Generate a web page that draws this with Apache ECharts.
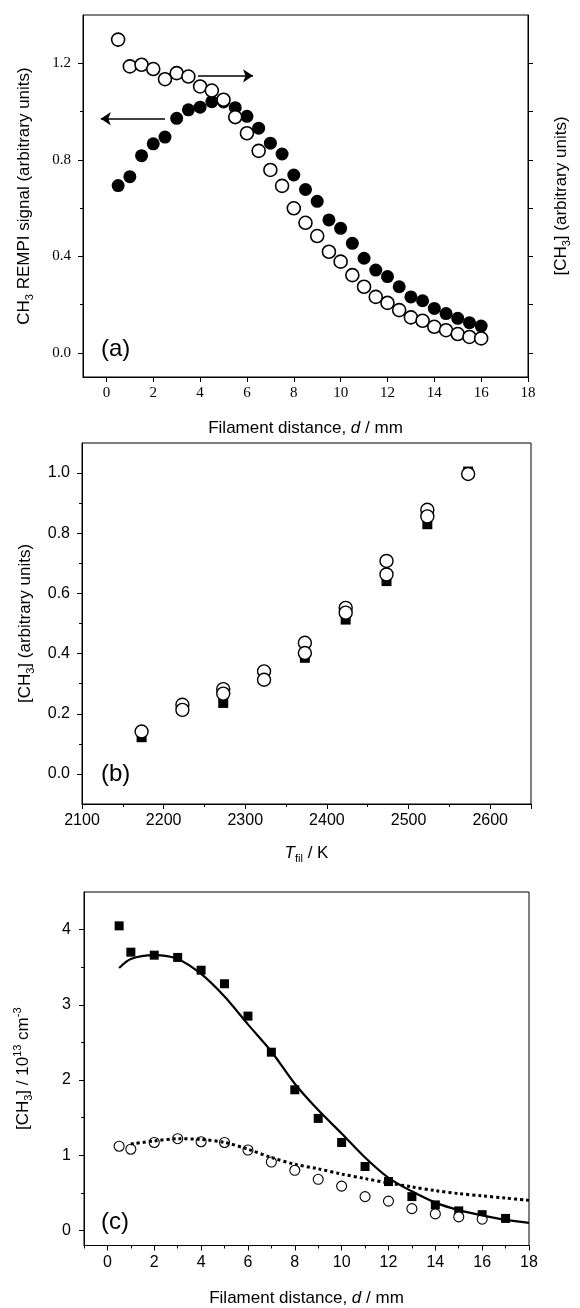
<!DOCTYPE html>
<html><head><meta charset="utf-8">
<script src="https://cdn.jsdelivr.net/npm/echarts@6/dist/echarts.min.js"></script>
<style>html,body{margin:0;padding:0;background:#fff}#c{width:580px;height:1308px}</style>
</head><body><div id="c"></div>
<script>
// ---------- Panel (a) ----------
const distA = [0.5,1.0,1.5,2.0,2.5,3.0,3.5,4.0,4.5,5.0,5.5,6.0,6.5,7.0,7.5,8.0,8.5,9.0,9.5,10.0,10.5,11.0,11.5,12.0,12.5,13.0,13.5,14.0,14.5,15.0,15.5,16.0];
const rempiA = [0.693,0.730,0.817,0.866,0.894,0.972,1.007,1.018,1.041,1.040,1.016,0.980,0.931,0.869,0.824,0.737,0.677,0.628,0.551,0.516,0.454,0.392,0.343,0.316,0.274,0.232,0.216,0.184,0.163,0.143,0.125,0.111];
const ch3A = [1.298,1.187,1.194,1.176,1.134,1.159,1.145,1.104,1.087,1.049,0.977,0.910,0.837,0.758,0.692,0.599,0.539,0.484,0.419,0.378,0.322,0.274,0.232,0.207,0.177,0.147,0.133,0.108,0.094,0.078,0.066,0.060];
const ticksA_x = [0,2,4,6,8,10,12,14,16,18];
const ticksA_y = [0.0,0.4,0.8,1.2];
const minorA_y = [0.2,0.6,1.0];
const rightA_y = [0.0,0.2,0.4,0.6,0.8,1.0,1.2];
const arrowLeft = [[2.5,0.97],[-0.24,0.97]];
const arrowRight = [[3.91,1.148],[6.26,1.148]];

// ---------- Panel (b) ----------
const tempSq = [2173,2273,2373,2423,2473,2523,2573];
const valSq = [0.122,0.236,0.386,0.513,0.641,0.830,1.005];
const tempC1 = [2173,2223,2273,2323,2373,2423,2473,2523,2573];
const valC1 = [0.141,0.230,0.282,0.341,0.436,0.552,0.708,0.878,0.997];
const tempC2 = [2223,2273,2323,2373,2423,2473,2523];
const valC2 = [0.213,0.267,0.313,0.402,0.536,0.663,0.856];
const ticksB_y = [0.0,0.2,0.4,0.6,0.8,1.0];
const minorB_y = [0.1,0.3,0.5,0.7,0.9];

// ---------- Panel (c) ----------
const distSqC = [0.5,1,2,3,4,5,6,7,8,9,10,11,12,13,14,15,16,17];
const valSqC = [4.05,3.70,3.66,3.63,3.46,3.28,2.85,2.37,1.87,1.49,1.17,0.85,0.65,0.45,0.34,0.26,0.21,0.16];
const distCirC = [0.5,1,2,3,4,5,6,7,8,9,10,11,12,13,14,15,16];
const valCirC = [1.12,1.08,1.17,1.22,1.18,1.17,1.07,0.91,0.80,0.68,0.59,0.45,0.39,0.29,0.22,0.18,0.15];
const distFitSolid = [0.5,1,2,3,4,5,6,7,8,9,10,11,12,13,14,15,16,17,18];
const valFitSolid = [3.49,3.61,3.66,3.61,3.41,3.11,2.74,2.38,1.95,1.60,1.29,0.97,0.70,0.52,0.37,0.27,0.20,0.14,0.10];
const distFitDot = [1,2,3,4,5,6,7,8,9,10,11,12,13,14,15,16,17,18];
const valFitDot = [1.15,1.19,1.22,1.21,1.17,1.08,0.97,0.88,0.82,0.75,0.69,0.63,0.58,0.53,0.49,0.46,0.43,0.40];
const ticksC_x = [0,2,4,6,8,10,12,14,16,18];
const minorC_x = [-1,1,3,5,7,9,11,13,15,17];
const ticksC_y = [0,1,2,3,4];
const minorC_y = [0.5,1.5,2.5,3.5];

const zip = (a,b) => a.map((v,i)=>[v,b[i]]);
const SANS = 'Liberation Sans, Arial, sans-serif';
const SERIF = 'Liberation Serif, Times New Roman, serif';
const rich = {
  n:{fontSize:17,fontFamily:SANS,color:'#000',lineHeight:22},
  i:{fontSize:17,fontFamily:SANS,color:'#000',fontStyle:'italic',lineHeight:22},
  s:{fontSize:11,fontFamily:SANS,color:'#000',verticalAlign:'bottom'},
  p:{fontSize:11,fontFamily:SANS,color:'#000',verticalAlign:'top'}
};
const lineBlack = {show:true,lineStyle:{color:'#000',width:1}};

function xAxisMain(grid,min,max,labels,font,size,name,gap){
  return {type:'value',gridIndex:grid,min:min,max:max,position:'bottom',
    axisLine:Object.assign({onZero:false},lineBlack),splitLine:{show:false},
    axisTick:{show:true,inside:false,length:5,lineStyle:{color:'#000'},customValues:labels},
    axisLabel:{show:true,customValues:labels,color:'#000',fontFamily:font,fontSize:size,margin:9},
    name:name,nameLocation:'middle',nameGap:gap,nameTextStyle:{rich:rich}};
}
function minorAxis(grid,min,max,vals,pos,len){
  return {type:'value',gridIndex:grid,min:min,max:max,position:pos,
    axisLine:{show:false,onZero:false},splitLine:{show:false},axisLabel:{show:false},
    axisTick:{show:true,length:len,lineStyle:{color:'#000'},customValues:vals}};
}
function yAxisMain(grid,min,max,labels,font,size,name,gap,margin,decimals){
  return {type:'value',gridIndex:grid,min:min,max:max,position:'left',
    axisLine:Object.assign({onZero:false},lineBlack),splitLine:{show:false},
    axisTick:{show:true,length:5,lineStyle:{color:'#000'},customValues:labels},
    axisLabel:{show:true,customValues:labels,color:'#000',fontFamily:font,fontSize:size,margin:margin,
      formatter:function(v){return v.toFixed(decimals);}},
    name:name,nameLocation:'middle',nameRotate:90,nameGap:gap,nameTextStyle:{rich:rich}};
}

const openCircle = (size,bw) => ({symbol:'circle',symbolSize:size,itemStyle:{color:'#fff',borderColor:'#000',borderWidth:bw,opacity:1}});
const filled = (sym,size) => ({symbol:sym,symbolSize:size,itemStyle:{color:'#000',borderColor:'#000',borderWidth:0,opacity:1}});

const option = {
  animation:false,
  backgroundColor:'#fff',
  grid:[
    {left:83,top:15,width:450,height:362,show:true,borderColor:'#000',borderWidth:1,backgroundColor:'transparent'},
    {left:82,top:443,width:449,height:361,show:true,borderColor:'#000',borderWidth:1,backgroundColor:'transparent'},
    {left:84,top:892,width:445,height:356,show:true,borderColor:'#000',borderWidth:1,backgroundColor:'transparent'}
  ],
  xAxis:[
    xAxisMain(0,-1,18,ticksA_x,SERIF,15,'{n|Filament distance, }{i|d}{n| / mm}',40),
    {type:'value',gridIndex:1,min:2100,max:2650,interval:100,position:'bottom',
      axisLine:Object.assign({onZero:false},lineBlack),splitLine:{show:false},
      axisTick:{show:true,length:5,lineStyle:{color:'#000'}},
      minorTick:{show:true,splitNumber:2,length:3,lineStyle:{color:'#000'}},minorSplitLine:{show:false},
      axisLabel:{color:'#000',fontFamily:SANS,fontSize:16,margin:9,showMaxLabel:false,
        formatter:function(v){return String(Math.round(v));}},
      name:'{i|T}{s|fil}{n| / K}',nameLocation:'middle',nameGap:38,nameTextStyle:{rich:rich}},
    xAxisMain(2,-1,18,ticksC_x,SANS,16,'{n|Filament distance, }{i|d}{n| / mm}',42),
    minorAxis(2,-1,18,minorC_x,'bottom',3)
  ],
  yAxis:[
    yAxisMain(0,-0.1,1.4,ticksA_y,SERIF,15,'{n|CH}{s|3}{n| REMPI signal (arbitrary units)}',48,12,1),
    minorAxis(0,-0.1,1.4,minorA_y,'left',3),
    {type:'value',gridIndex:0,min:-0.1,max:1.4,position:'right',
      axisLine:Object.assign({onZero:false},lineBlack),splitLine:{show:false},axisLabel:{show:false},
      axisTick:{show:true,length:5,lineStyle:{color:'#000'},customValues:rightA_y},
      name:'{n|[CH}{s|3}{n|] (arbitrary units)}',nameLocation:'middle',nameRotate:90,nameGap:22,nameTextStyle:{rich:rich}},
    yAxisMain(1,-0.1,1.1,ticksB_y,SANS,16,'{n|[CH}{s|3}{n|] (arbitrary units)}',46,12,1),
    minorAxis(1,-0.1,1.1,minorB_y,'left',3),
    yAxisMain(2,-0.2,4.5,ticksC_y,SANS,16,'{n|[CH}{s|3}{n|] / 10}{p|13}{n| cm}{p|-3}',50,13,0),
    minorAxis(2,-0.2,4.5,minorC_y,'left',3)
  ],
  series:[
    Object.assign({type:'scatter',xAxisIndex:0,yAxisIndex:0,data:zip(distA,rempiA),z:2,
      markLine:{silent:true,symbol:['none','arrow'],symbolSize:10,label:{show:false},
        emphasis:{disabled:true},
        lineStyle:{color:'#000',width:1.5,type:'solid',opacity:1},
        data:[[{coord:arrowLeft[0]},{coord:arrowLeft[1]}],[{coord:arrowRight[0]},{coord:arrowRight[1]}]]}},
      filled('circle',13)),
    Object.assign({type:'scatter',xAxisIndex:0,yAxisIndex:0,data:zip(distA,ch3A),z:3},openCircle(13,1.6)),
    Object.assign({type:'scatter',xAxisIndex:1,yAxisIndex:3,data:zip(tempSq,valSq),z:2},filled('rect',10)),
    Object.assign({type:'scatter',xAxisIndex:1,yAxisIndex:3,data:zip(tempC1,valC1),z:3},openCircle(13,1.4)),
    Object.assign({type:'scatter',xAxisIndex:1,yAxisIndex:3,data:zip(tempC2,valC2),z:4},openCircle(13,1.4)),
    Object.assign({type:'scatter',xAxisIndex:2,yAxisIndex:5,data:zip(distSqC,valSqC),z:2},filled('rect',9)),
    Object.assign({type:'scatter',xAxisIndex:2,yAxisIndex:5,data:zip(distCirC,valCirC),z:2},openCircle(10,1.1)),
    {type:'line',xAxisIndex:2,yAxisIndex:5,data:zip(distFitSolid,valFitSolid),symbol:'none',smooth:0.3,z:5,
      lineStyle:{color:'#000',width:2.2}},
    {type:'line',xAxisIndex:2,yAxisIndex:5,data:zip(distFitDot,valFitDot),symbol:'none',smooth:0.3,z:5,
      lineStyle:{color:'#000',width:3,type:[3,3]}}
  ],
  graphic:[
    {type:'text',left:101,top:337,style:{text:'(a)',fill:'#000',font:'24px '+SANS}},
    {type:'text',left:101,top:762,style:{text:'(b)',fill:'#000',font:'24px '+SANS}},
    {type:'text',left:101,top:1210,style:{text:'(c)',fill:'#000',font:'24px '+SANS}}
  ]
};
const chart = echarts.init(document.getElementById('c'),null,{renderer:'canvas'});
chart.setOption(option);
</script></body></html>
